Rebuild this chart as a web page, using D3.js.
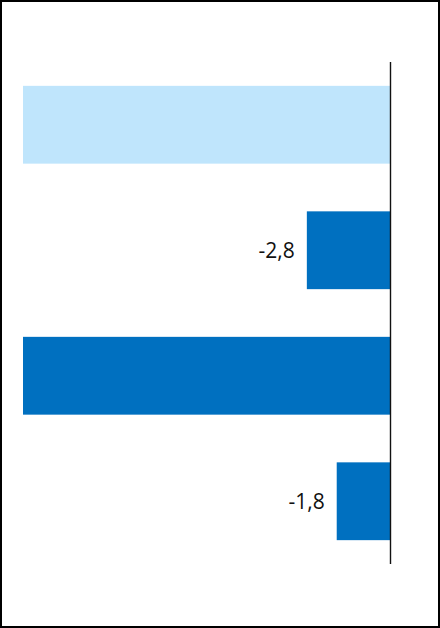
<!DOCTYPE html>
<html>
<head>
<meta charset="utf-8">
<script src="https://cdn.jsdelivr.net/npm/d3@7"></script>
<style>
  html, body { margin: 0; padding: 0; background: #fff; }
  svg { display: block; }
</style>
</head>
<body>
<svg width="440" height="628"></svg>
<script>
// chart data
const categories = ['a', 'b', 'c', 'd'];
const values = [-12.3, -2.8, -12.3, -1.8];
const labels = [null, '-2,8', null, '-1,8'];
const barColors = ['#bfe5fc', '#0070c0', '#0070c0', '#0070c0'];

const rows = categories.map((c, i) => ({ cat: c, value: values[i], label: labels[i], color: barColors[i] }));

const svg = d3.select('svg');
const width = +svg.attr('width');
const height = +svg.attr('height');

// frame
svg.append('rect')
  .attr('x', 1).attr('y', 1)
  .attr('width', width - 2).attr('height', height - 2)
  .attr('fill', '#fff')
  .attr('stroke', '#000')
  .attr('stroke-width', 2);

const xScale = d3.scaleLinear()
  .domain([-12.3, 0])
  .range([23, 390.5])
  .clamp(true);

const yScale = d3.scaleBand()
  .domain(categories)
  .range([62, 564])
  .paddingInner(0.38)
  .paddingOuter(0.19);

svg.selectAll('rect.bar')
  .data(rows)
  .enter()
  .append('rect')
    .classed('bar', true)
    .attr('x', d => xScale(d.value))
    .attr('y', d => yScale(d.cat))
    .attr('width', d => xScale(0) - xScale(d.value))
    .attr('height', yScale.bandwidth())
    .style('fill', d => d.color);

svg.selectAll('text.val')
  .data(rows.filter(d => d.label))
  .enter()
  .append('text')
    .classed('val', true)
    .attr('x', d => xScale(d.value) - 12)
    .attr('y', d => yScale(d.cat) + yScale.bandwidth() / 2)
    .attr('dy', '0.36em')
    .attr('text-anchor', 'end')
    .style('font-family', '"Open Sans", sans-serif')
    .style('font-size', '21px')
    .style('fill', '#111')
    .text(d => d.label);

// zero axis line
svg.append('line')
  .attr('x1', xScale(0)).attr('x2', xScale(0))
  .attr('y1', 62).attr('y2', 564)
  .attr('stroke', '#111')
  .attr('stroke-width', 1.4);
</script>
</body>
</html>
